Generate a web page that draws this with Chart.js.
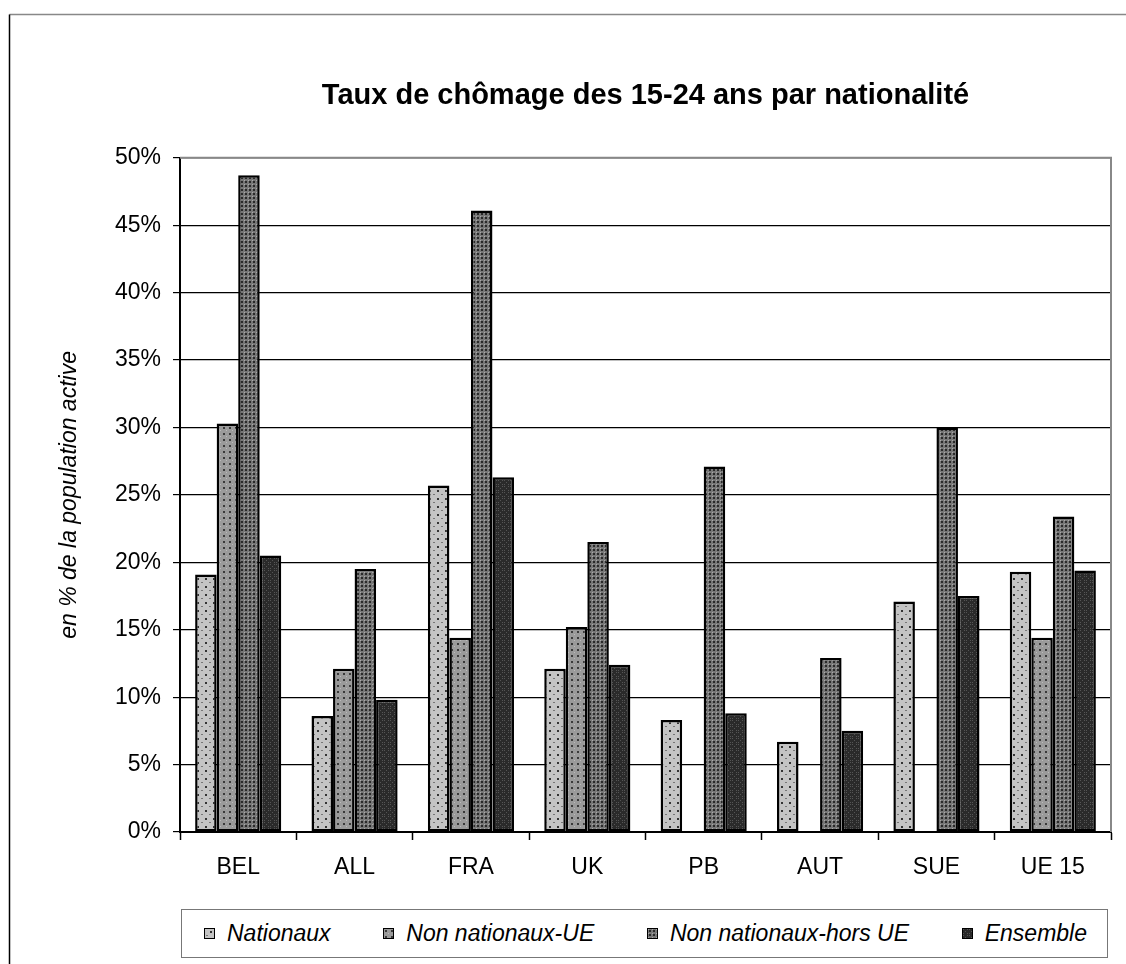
<!DOCTYPE html>
<html>
<head>
<meta charset="utf-8">
<script src="https://cdn.jsdelivr.net/npm/chart.js@4"></script>
<style>
  html, body { margin: 0; padding: 0; background: #fff; }
  #wrap { width: 1126px; height: 964px; position: relative; }
  #legend {
    position: absolute; left: 181px; top: 909px; width: 927px; height: 49px;
    box-sizing: border-box; border: 1.5px solid #777; background: #fff;
    display: flex; justify-content: space-between; align-items: center;
    padding: 0 20px 0 22px;
    font-family: 'Liberation Sans', Arial, sans-serif; font-size: 23px; font-style: italic; color: #000;
  }
  #legend .item { display: flex; align-items: center; white-space: nowrap; }
  #legend .sw {
    display: inline-block; width: 9px; height: 9px; border: 1.5px solid #000;
    margin-right: 12px;
  }
</style>
</head>
<body>
<div id="wrap">
  <canvas id="chart" width="1126" height="964"></canvas>
  <div id="legend"></div>
</div>
<script>
// Taux de chômage des 15-24 ans par nationalité (values in %)
var categories = ["BEL", "ALL", "FRA", "UK", "PB", "AUT", "SUE", "UE 15"];
var nationaux = [19.1, 8.6, 25.7, 12.1, 8.3, 6.7, 17.1, 19.3];
var nonNatUE = [30.3, 12.1, 14.4, 15.2, null, null, null, 14.4];
var nonNatHorsUE = [48.7, 19.5, 46.1, 21.5, 27.1, 12.9, 30.0, 23.4];
var ensemble = [20.5, 9.8, 26.3, 12.4, 8.8, 7.5, 17.5, 19.4];
var seriesNames = ["Nationaux", "Non nationaux-UE", "Non nationaux-hors UE", "Ensemble"];

var FONT = "'Liberation Sans', Arial, sans-serif";

// small tiles imitating the Excel grey fill patterns
function tile(size, bg, draw) {
    var c = document.createElement("canvas");
    c.width = size;
    c.height = size;
    var g = c.getContext("2d");
    g.fillStyle = bg;
    g.fillRect(0, 0, size, size);
    draw(g);
    return c;
}

var tiles = [
    tile(8, "#c4c4c4", function (g) {
        g.fillStyle = "#333";
        g.fillRect(5, 2, 2, 2);
        g.fillStyle = "#777";
        g.fillRect(1, 6, 2, 1);
    }),
    tile(6, "#9a9a9a", function (g) {
        g.fillStyle = "#3a3a3a";
        g.fillRect(1, 1, 2, 2);
        g.fillStyle = "#bbb";
        g.fillRect(4, 4, 1, 1);
    }),
    tile(4, "#777", function (g) {
        g.fillStyle = "#2a2a2a";
        g.fillRect(1, 1, 2, 2);
        g.fillStyle = "#aaa";
        g.fillRect(0, 0, 1, 1);
    }),
    tile(6, "#2a2a2a", function (g) {
        g.fillStyle = "#555";
        g.fillRect(0, 0, 1, 1);
        g.fillRect(2, 2, 1, 1);
        g.fillRect(4, 4, 1, 1);
        g.fillRect(4, 0, 1, 1);
        g.fillRect(0, 4, 1, 1);
    })
];

var canvas = document.getElementById("chart");
var ctx0 = canvas.getContext("2d");
var fills = tiles.map(function (t) {
    return ctx0.createPattern(t, "repeat");
});

function ds(i, data) {
    return {
        label: seriesNames[i],
        data: data,
        backgroundColor: fills[i],
        borderColor: "#000",
        borderWidth: 2.5,
        borderSkipped: false,
        categoryPercentage: 0.74,
        barPercentage: 1.0
    };
}

// legend as html, swatches use the same tiles
var legendEl = document.getElementById("legend");
seriesNames.forEach(function (name, i) {
    var item = document.createElement("span");
    item.className = "item";
    var sw = document.createElement("span");
    sw.className = "sw";
    sw.style.backgroundImage = "url(" + tiles[i].toDataURL() + ")";
    item.appendChild(sw);
    item.appendChild(document.createTextNode(name));
    legendEl.appendChild(item);
});

var frames = {
    id: "frames",
    afterLayout: function (chart) {
        // centre the title over the plot area, like Excel does
        var t = chart.titleBlock;
        if (t) {
            t.left = chart.chartArea.left;
            t.right = chart.chartArea.right;
        }
    },
    beforeDraw: function (chart) {
        var ctx = chart.ctx;
        ctx.save();
        ctx.fillStyle = "#fff";
        ctx.fillRect(0, 0, chart.width, chart.height);
        ctx.lineWidth = 1.5;
        ctx.strokeStyle = "#888";
        ctx.beginPath();
        ctx.moveTo(9.5, 14.5);
        ctx.lineTo(chart.width + 2, 14.5);
        ctx.stroke();
        ctx.strokeStyle = "#000";
        ctx.beginPath();
        ctx.moveTo(9.5, 14.5);
        ctx.lineTo(9.5, chart.height + 2);
        ctx.stroke();
        ctx.restore();
    },
    afterDraw: function (chart) {
        var ctx = chart.ctx;
        var a = chart.chartArea;
        ctx.save();
        ctx.lineWidth = 2;
        ctx.strokeStyle = "#888";
        ctx.beginPath();
        ctx.moveTo(a.left, a.top);
        ctx.lineTo(a.right, a.top);
        ctx.lineTo(a.right, a.bottom);
        ctx.stroke();
        ctx.restore();
    }
};

new Chart(canvas, {
    type: "bar",
    data: {
        labels: categories,
        datasets: [
            ds(0, nationaux),
            ds(1, nonNatUE),
            ds(2, nonNatHorsUE),
            ds(3, ensemble)
        ]
    },
    options: {
        responsive: false,
        animation: false,
        layout: { padding: { top: 65, right: 15, bottom: 78, left: 56 } },
        plugins: {
            title: {
                display: true,
                text: "Taux de chômage des 15-24 ans par nationalité",
                color: "#000",
                font: { family: FONT, size: 29, weight: "bold" },
                padding: { top: 14, bottom: 44 }
            },
            legend: { display: false },
            tooltip: { enabled: false }
        },
        scales: {
            x: {
                grid: {
                    display: true,
                    drawOnChartArea: false,
                    offset: true,
                    color: "#000",
                    tickLength: 8,
                    tickWidth: 1.5
                },
                border: { color: "#000", width: 2 },
                ticks: {
                    color: "#000",
                    font: { family: FONT, size: 23 },
                    padding: 14
                },
                afterFit: function (s) {
                    s.height = 54;
                }
            },
            y: {
                min: 0,
                max: 50,
                ticks: {
                    stepSize: 5,
                    color: "#000",
                    font: { family: FONT, size: 23 },
                    padding: 12,
                    callback: function (v) {
                        return v + "%";
                    }
                },
                grid: { color: "#000", lineWidth: 1.2, tickLength: 7 },
                border: { color: "#000", width: 2 },
                title: {
                    display: true,
                    text: "en % de la population active",
                    color: "#000",
                    font: { family: FONT, size: 23, style: "italic" },
                    padding: { top: 0, bottom: 0 }
                },
                afterFit: function (s) {
                    s.width = 124;
                }
            }
        }
    },
    plugins: [frames]
});
</script>
</body>
</html>
